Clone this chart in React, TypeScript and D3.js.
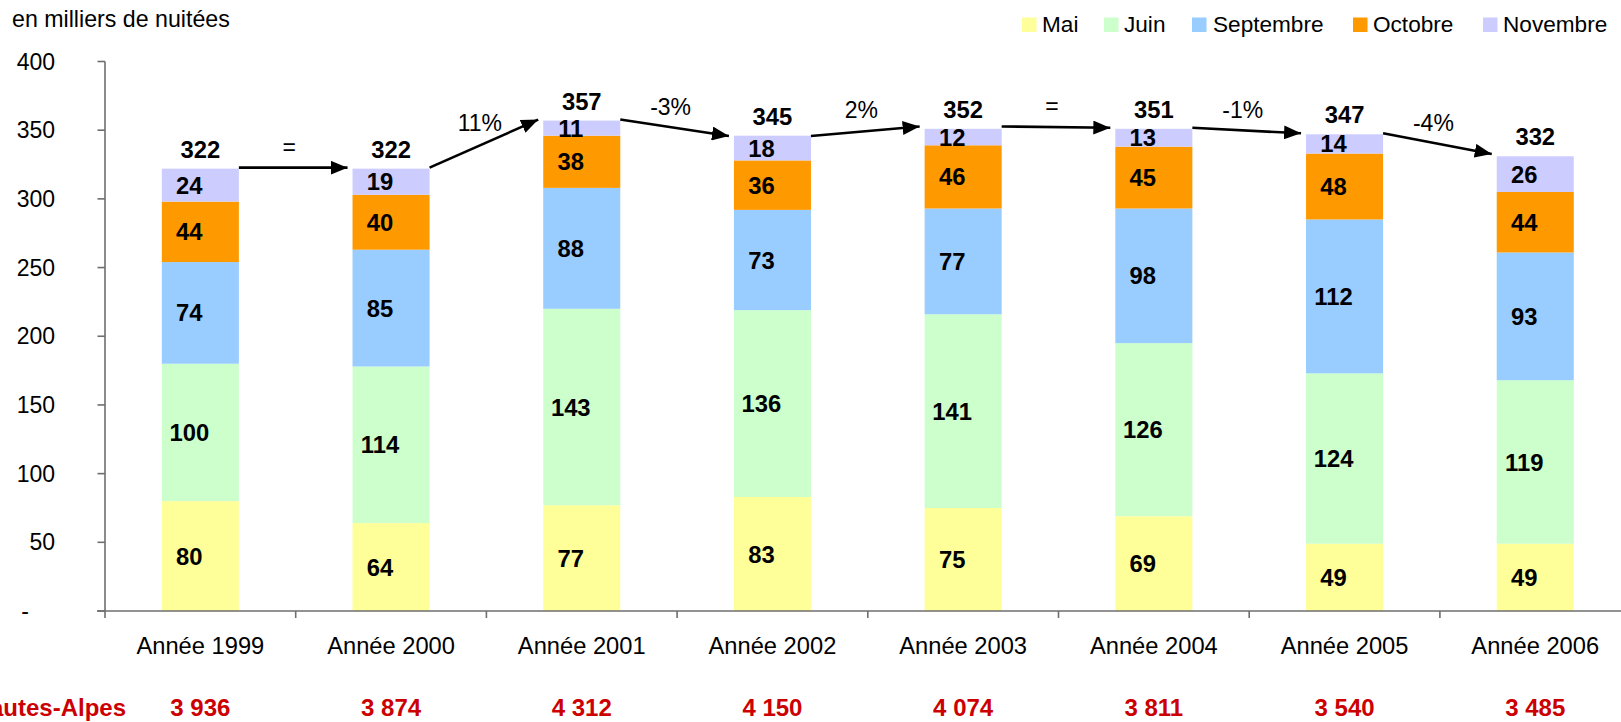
import * as d3 from "d3";

const years = ["Année 1999", "Année 2000", "Année 2001", "Année 2002", "Année 2003", "Année 2004", "Année 2005", "Année 2006"];
const months = ["Mai", "Juin", "Septembre", "Octobre", "Novembre"];
const colors = ["#FFFF99", "#CCFFCC", "#99CCFF", "#FF9900", "#CCCCFF"];

const mai = [80, 64, 77, 83, 75, 69, 49, 49];
const juin = [100, 114, 143, 136, 141, 126, 124, 119];
const septembre = [74, 85, 88, 73, 77, 98, 112, 93];
const octobre = [44, 40, 38, 36, 46, 45, 48, 44];
const novembre = [24, 19, 11, 18, 12, 13, 14, 26];
const totals = [322, 322, 357, 345, 352, 351, 347, 332];

const variations = ["=", "11%", "-3%", "2%", "=", "-1%", "-4%"];
const annualTotals = ["3 936", "3 874", "4 312", "4 150", "4 074", "3 811", "3 540", "3 485"];
const yTicks = [0, 50, 100, 150, 200, 250, 300, 350, 400];

const W = 1621;
const H = 722;
const font = "Liberation Sans, Arial, sans-serif";

export default function App() {
  const x = d3.scaleBand<string>().domain(years).range([105, 105 + 8 * 190.7]).padding(0);
  const y = d3.scaleLinear().domain([0, 400]).range([611, 61.5]);
  const barW = x.bandwidth() * 0.404;

  const rows = years.map((yr, i) => ({
    year: yr,
    Mai: mai[i],
    Juin: juin[i],
    Septembre: septembre[i],
    Octobre: octobre[i],
    Novembre: novembre[i],
  }));
  const stacked = d3.stack<any>().keys(months)(rows);

  const cx = (yr: string) => (x(yr) ?? 0) + x.bandwidth() / 2;

  return (
    <svg
      width={W}
      height={H}
      style={{ position: "absolute", left: 0, top: 0, fontFamily: font }}
    >
      <defs>
        <marker id="head" viewBox="0 0 17 14" refX="17" refY="7" markerWidth="17" markerHeight="14" markerUnits="userSpaceOnUse" orient="auto">
          <path d="M0,0 L17,7 L0,14 Z" fill="#000" />
        </marker>
      </defs>

      <text x={12} y={27} fontSize={23.2} fill="#000">en milliers de nuitées</text>

      {/* Legend */}
      {[
        { x: 1022, tx: 1042 },
        { x: 1104, tx: 1124 },
        { x: 1192, tx: 1213 },
        { x: 1353, tx: 1373 },
        { x: 1483, tx: 1503 },
      ].map((p, i) => (
        <g key={months[i]}>
          <rect x={p.x} y={17.5} width={14.5} height={14.5} fill={colors[i]} />
          <text x={p.tx} y={31.5} fontSize={22.6} fill="#000">{months[i]}</text>
        </g>
      ))}

      {/* Bars */}
      {stacked.map((layer, k) => (
        <g key={layer.key}>
          {layer.map((d, i) => {
            const yr = years[i];
            const x0 = cx(yr) - barW / 2;
            return (
              <g key={yr}>
                <rect x={x0} y={y(d[1])} width={barW} height={y(d[0]) - y(d[1])} fill={colors[k]} />
                <text
                  x={cx(yr) - 11}
                  y={(y(d[0]) + y(d[1])) / 2}
                  dy="0.36em"
                  textAnchor="middle"
                  fontSize={23.8}
                  fontWeight="bold"
                  fill="#000"
                >
                  {d[1] - d[0]}
                </text>
              </g>
            );
          })}
        </g>
      ))}

      {/* Totals */}
      {years.map((yr, i) => (
        <text key={yr} x={cx(yr)} y={y(stacked[4][i][1]) - 11} textAnchor="middle" fontSize={23.8} fontWeight="bold" fill="#000">
          {totals[i]}
        </text>
      ))}

      {/* Variation arrows */}
      {variations.map((v, i) => {
        const x1 = cx(years[i]) + barW / 2;
        const x2 = cx(years[i + 1]) - barW / 2 - 5;
        const y1 = y(totals[i]) - 1;
        const y2 = y(totals[i + 1]) - 1;
        return (
          <g key={i}>
            <line x1={x1} y1={y1} x2={x2} y2={y2} stroke="#000" strokeWidth={2.6} markerEnd="url(#head)" />
            <text x={(x1 + x2) / 2 - 4} y={(y1 + y2) / 2 - 13} textAnchor="middle" fontSize={23} fill="#000">
              {v}
            </text>
          </g>
        );
      })}

      {/* Axes */}
      <g stroke="#6e6e6e" strokeWidth={1.6}>
        <line x1={105} y1={y(400)} x2={105} y2={618} />
        <line x1={97} y1={611} x2={W} y2={611} />
        {yTicks.map((t) => (
          <line key={t} x1={97.5} y1={y(t)} x2={105} y2={y(t)} />
        ))}
        {years.map((yr) => (
          <line key={yr} x1={x(yr)! + x.bandwidth()} y1={611} x2={x(yr)! + x.bandwidth()} y2={618} />
        ))}
      </g>

      {yTicks.map((t) =>
        t === 0 ? (
          <text key={t} x={25} y={y(t)} dy="0.35em" textAnchor="middle" fontSize={23} fill="#000">-</text>
        ) : (
          <text key={t} x={55} y={y(t)} dy="0.35em" textAnchor="end" fontSize={23} fill="#000">{t}</text>
        )
      )}

      {years.map((yr) => (
        <text key={yr} x={cx(yr)} y={654} textAnchor="middle" fontSize={23.7} fill="#000">{yr}</text>
      ))}

      {/* Annual totals row */}
      <text x={126} y={716} textAnchor="end" fontSize={24} fontWeight="bold" fill="#CC0000">Hautes-Alpes</text>
      {years.map((yr, i) => (
        <text key={yr} x={cx(yr)} y={716} textAnchor="middle" fontSize={24} fontWeight="bold" fill="#CC0000">
          {annualTotals[i]}
        </text>
      ))}
    </svg>
  );
}
